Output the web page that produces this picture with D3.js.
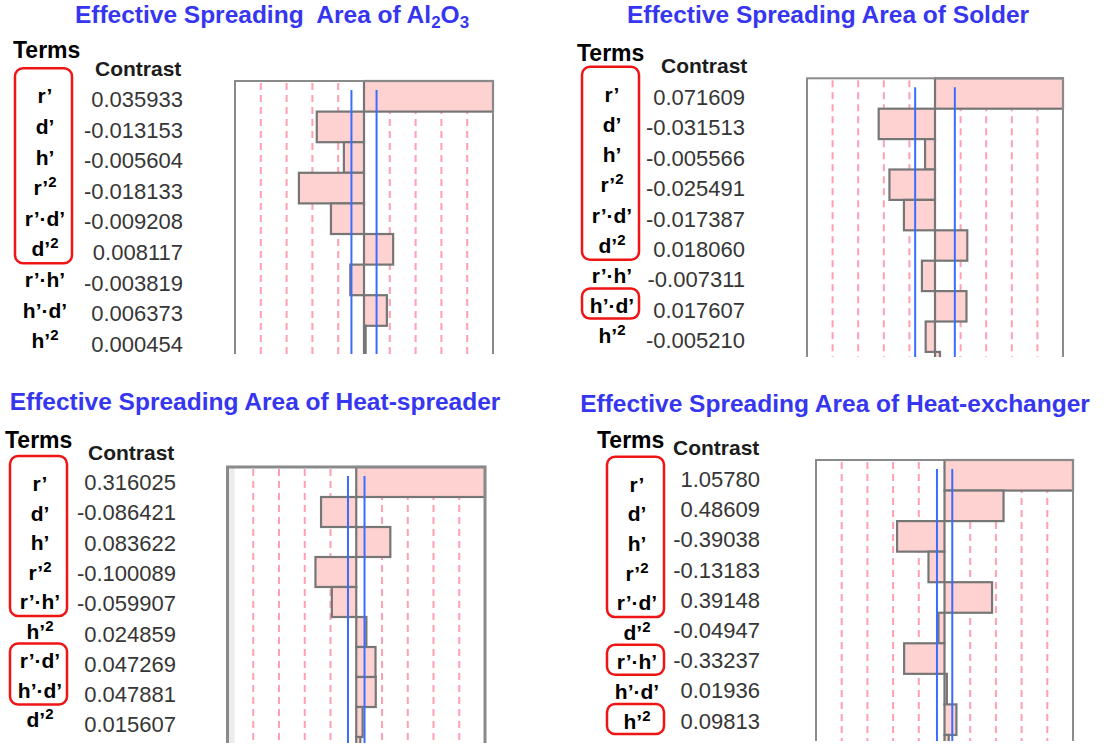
<!DOCTYPE html>
<html>
<head>
<meta charset="utf-8">
<script src="https://cdn.jsdelivr.net/npm/d3@7.9.0/dist/d3.min.js"></script>
<style>
  html, body { margin: 0; padding: 0; background: #fff; }
  svg { display: block; font-family: "Liberation Sans", Arial, sans-serif; }
  text { white-space: pre; }
</style>
</head>
<body>
<svg id="chart" width="1107" height="745"></svg>
<script>
// term labels, one list per response
const termsAl2O3 = ["r’", "d’", "h’", "r’²", "r’·d’", "d’²", "r’·h’", "h’·d’", "h’²"];
const termsSolder = ["r’", "d’", "h’", "r’²", "r’·d’", "d’²", "r’·h’", "h’·d’", "h’²"];
const termsSpreader = ["r’", "d’", "h’", "r’²", "r’·h’", "h’²", "r’·d’", "h’·d’", "d’²"];
const termsExchanger = ["r’", "d’", "h’", "r’²", "r’·d’", "d’²", "r’·h’", "h’·d’", "h’²"];

// contrasts (an extra value = next row, only its top shows at the cut edge)
const contrastAl2O3 = [0.035933, -0.013153, -0.005604, -0.018133, -0.009208, 0.008117, -0.003819, 0.006373, 0.000454];
const contrastSolder = [0.071609, -0.031513, -0.005566, -0.025491, -0.017387, 0.018060, -0.007311, 0.017607, -0.005210, 0.0028];
const contrastSpreader = [0.316025, -0.086421, 0.083622, -0.100089, -0.059907, 0.024859, 0.047269, 0.047881, 0.015607, 0.010];
const contrastExchanger = [1.05780, 0.48609, -0.39038, -0.13183, 0.39148, -0.04947, -0.33237, 0.01936, 0.09813, 0.035];

// significance limits (blue lines)
const limitsAl2O3 = [-0.0035, 0.0035];
const limitsSolder = [-0.0111, 0.0111];
const limitsSpreader = [-0.0203, 0.0203];
const limitsExchanger = [-0.062, 0.064];

// terms circled in red, as [first row, last row]
const boxedAl2O3 = [[0, 5]];
const boxedSolder = [[0, 5], [7, 7]];
const boxedSpreader = [[0, 4], [6, 7]];
const boxedExchanger = [[0, 4], [6, 6], [8, 8]];

const panels = [
  {
    title: [["Effective Spreading  Area of Al"], ["2", true], ["O"], ["3", true]],
    terms: termsAl2O3, values: contrastAl2O3, limits: limitsAl2O3, boxed: boxedAl2O3, digits: 6,
    titleX: 272, titleY: 28,
    termsHead: [13, 58], contrastHead: [95, 76],
    termX: 45, termY: 103.3, termStep: 30.6,
    valueX: 183, valueY: 107, valueStep: 30.6,
    box: { left: 235, right: 493, top: 81, bottom: 354 }, rowH: 30.6
  },
  {
    title: [["Effective Spreading Area of Solder"]],
    terms: termsSolder, values: contrastSolder, limits: limitsSolder, boxed: boxedSolder, digits: 6,
    titleX: 828, titleY: 28,
    termsHead: [577, 61], contrastHead: [661, 73],
    termX: 612, termY: 101.7, termStep: 30.2,
    valueX: 745, valueY: 105, valueStep: 30.4,
    box: { left: 807, right: 1063, top: 78.3, bottom: 357 }, rowH: 30.4
  },
  {
    title: [["Effective Spreading Area of Heat-spreader"]],
    terms: termsSpreader, values: contrastSpreader, limits: limitsSpreader, boxed: boxedSpreader, digits: 6,
    titleX: 255, titleY: 415,
    termsHead: [5, 448], contrastHead: [88, 460],
    termX: 40, termY: 491, termStep: 29.5,
    valueX: 176, valueY: 490, valueStep: 30.3,
    box: { left: 227.5, right: 485, top: 467, bottom: 743 }, rowH: 30, shade: true
  },
  {
    title: [["Effective Spreading Area of Heat-exchanger"]],
    terms: termsExchanger, values: contrastExchanger, limits: limitsExchanger, boxed: boxedExchanger, digits: 5,
    titleX: 835, titleY: 417,
    termsHead: [597, 448], contrastHead: [673, 455],
    termX: 637, termY: 491.7, termStep: 29.6,
    valueX: 760, valueY: 487, valueStep: 30.2,
    box: { left: 816, right: 1073, top: 460, bottom: 741 }, rowH: 30.55
  }
];

const svg = d3.select("#chart");
svg.append("rect").attr("width", 1107).attr("height", 745).attr("fill", "#fff");

// term label with a raised "2"
function termText(sel, label) {
  const parts = label.split("²");
  sel.append("tspan").text(parts[0]);
  if (parts.length > 1) {
    sel.append("tspan").attr("font-size", 15).attr("dy", -8).text("2");
  }
}

function drawPanel(p, idx) {
  const g = svg.append("g");

  // title
  const title = g.append("text")
    .attr("x", p.titleX).attr("y", p.titleY)
    .attr("text-anchor", "middle")
    .attr("font-size", 24.5).attr("font-weight", "bold")
    .attr("fill", "#3636f0");
  p.title.forEach(([t, sub]) => {
    if (sub) {
      title.append("tspan").attr("font-size", 17).attr("dy", 5).text(t);
    } else {
      title.append("tspan").attr("dy", title.selectAll("tspan").size() ? -5 : 0).text(t);
    }
  });

  g.append("text")
    .attr("x", p.termsHead[0]).attr("y", p.termsHead[1])
    .attr("font-size", 23).attr("font-weight", "bold").attr("fill", "#000")
    .text("Terms");
  g.append("text")
    .attr("x", p.contrastHead[0]).attr("y", p.contrastHead[1])
    .attr("font-size", 21).attr("font-weight", "bold").attr("fill", "#1c1c1c")
    .text("Contrast");

  // term labels
  p.terms.forEach((t, i) => {
    const txt = g.append("text")
      .attr("x", p.termX).attr("y", p.termY + i * p.termStep)
      .attr("text-anchor", "middle")
      .attr("font-size", 21).attr("font-weight", "bold").attr("fill", "#000");
    termText(txt, t);
  });

  // contrast numbers
  p.terms.forEach((t, i) => {
    g.append("text")
      .attr("x", p.valueX).attr("y", p.valueY + i * p.valueStep)
      .attr("text-anchor", "end")
      .attr("font-size", 22).attr("fill", "#363636")
      .text(p.values[i].toFixed(p.digits));
  });

  // red boxes round the terms
  p.boxed.forEach(([a, b]) => {
    const top = p.termY + a * p.termStep - (a === 0 ? 35 : 24.5);
    const bottom = p.termY + b * p.termStep + (a === b ? 5.5 : 7);
    g.append("rect")
      .attr("x", p.termX - 30).attr("y", top)
      .attr("width", 57).attr("height", bottom - top)
      .attr("rx", 8).attr("ry", 8)
      .attr("fill", "none").attr("stroke", "#f01414").attr("stroke-width", 2.5);
  });

  // bar chart, clipped at the bottom like the original screenshot
  const bx = p.box;
  const max = d3.max(p.values, Math.abs);
  const x = d3.scaleLinear().domain([-max, max]).range([bx.left, bx.right]);
  const y = d3.scaleBand()
    .domain(d3.range(p.values.length))
    .range([bx.top, bx.top + p.values.length * p.rowH])
    .padding(0);

  const clipId = "clip" + idx;
  svg.append("clipPath").attr("id", clipId)
    .append("rect")
    .attr("x", bx.left - 4).attr("y", bx.top - 4)
    .attr("width", bx.right - bx.left + 8).attr("height", bx.bottom - bx.top + 4);

  const plot = g.append("g").attr("clip-path", `url(#${clipId})`);

  plot.append("rect")
    .attr("x", bx.left).attr("y", bx.top)
    .attr("width", bx.right - bx.left).attr("height", bx.bottom - bx.top + 20)
    .attr("fill", "#fff");
  if (p.shade) {
    plot.append("rect")
      .attr("x", bx.left).attr("y", bx.top)
      .attr("width", 7).attr("height", bx.bottom - bx.top + 20)
      .attr("fill", "#ececec");
  }

  const grid = d3.range(-4, 5).filter(k => k !== 0).map(k => k * max / 5);
  plot.selectAll(".grid").data(grid).join("line")
    .attr("x1", d => x(d)).attr("x2", d => x(d))
    .attr("y1", bx.top + 2).attr("y2", bx.bottom + 10)
    .attr("stroke", "#ff9fb0").attr("stroke-width", 2)
    .attr("stroke-dasharray", "7,5");

  plot.selectAll(".bar").data(p.values).join("rect")
    .attr("x", d => x(Math.min(0, d)))
    .attr("y", (d, i) => y(i))
    .attr("width", d => Math.abs(x(d) - x(0)))
    .attr("height", y.bandwidth())
    .attr("fill", "#ffd2d2")
    .attr("stroke", "#767676").attr("stroke-width", 2.2);

  plot.selectAll(".limit").data(p.limits).join("line")
    .attr("x1", d => x(d)).attr("x2", d => x(d))
    .attr("y1", bx.top + 9).attr("y2", bx.bottom + 10)
    .attr("stroke", "#3a6cff").attr("stroke-width", 2);

  plot.append("rect")
    .attr("x", bx.left).attr("y", bx.top)
    .attr("width", bx.right - bx.left).attr("height", bx.bottom - bx.top + 20)
    .attr("fill", "none").attr("stroke", "#8a8a8a").attr("stroke-width", p.shade ? 3 : 2);
}

panels.forEach(drawPanel);
</script>
</body>
</html>
